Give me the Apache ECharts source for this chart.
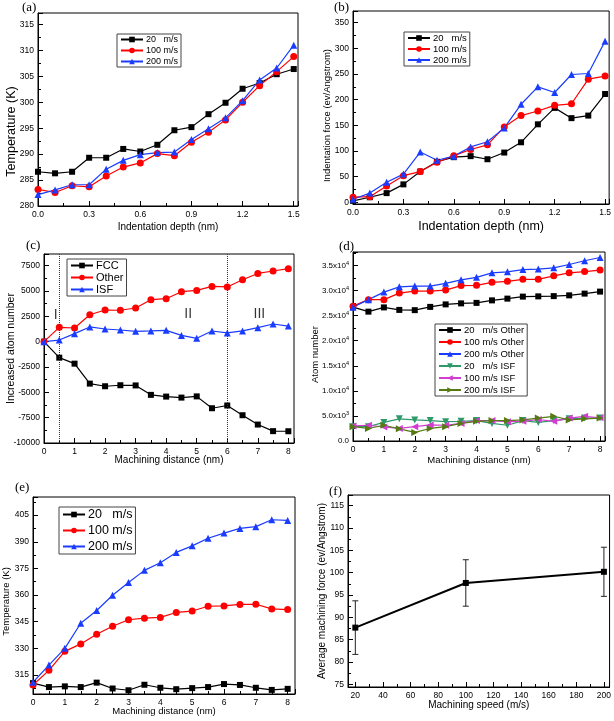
<!DOCTYPE html>
<html><head><meta charset="utf-8">
<script src="https://cdn.jsdelivr.net/npm/echarts@6/dist/echarts.min.js"></script>
<style>html,body{margin:0;padding:0;background:#fff}#c{width:614px;height:721px}</style>
</head><body><div id="c"></div><script>
// ---------- data ----------
const depth = [0,0.1,0.2,0.3,0.4,0.5,0.6,0.7,0.8,0.9,1.0,1.1,1.2,1.3,1.4,1.5];
const tempA20  = [286.6,286.3,286.6,289.3,289.3,291.0,290.5,291.8,294.6,295.2,297.7,299.9,302.6,303.7,305.4,306.4];
const tempA100 = [283.2,282.6,283.9,283.7,285.8,287.5,288.3,290.1,289.7,292.3,294.2,296.6,300.0,303.2,305.9,308.8];
const tempA200 = [282.2,283.1,284.1,284.1,287.1,288.8,289.9,290.3,290.4,292.8,294.9,297.0,300.3,304.3,306.6,311.0];
const forceB20  = [3,10,18,35,60,79,88,90,84,97,117,152,184,164,169,211];
const forceB100 = [10,11,32,52,60,78,91,103,112,147,169,178,189,192,240,246];
const forceB200 = [6,18,39,55,98,82,90,108,118,145,191,225,214,249,251,314];
const dist = [0,0.5,1,1.5,2,2.5,3,3.5,4,4.5,5,5.5,6,6.5,7,7.5,8];
const fccC   = [0,-1580,-2170,-4140,-4400,-4300,-4320,-5250,-5420,-5520,-5400,-6570,-6300,-7260,-8180,-8830,-8840];
const otherC = [0,1410,1350,2660,3120,3100,3320,4140,4240,4930,5060,5450,5400,6110,6730,6970,7200];
const isfC   = [0,160,790,1450,1250,1150,1020,1060,1120,620,330,1050,860,1060,1380,1740,1540];
const regionBounds = [0.5, 6];
const romanText = ['I','II','III'];
const romanX = [0.38, 4.72, 7.05];
const romanY = [2600, 2750, 2750];
const otherD20  = [26700,25800,26650,26150,26100,26750,27250,27450,27550,28050,28400,28800,28850,28900,29050,29400,29800];
const otherD100 = [26900,28200,28200,29500,29900,29900,30100,31000,31050,31650,31850,32250,32250,32950,33550,33800,34100];
const otherD200 = [26700,28200,29700,30750,30900,30900,31450,32150,32650,33550,33750,34200,34300,34550,35200,35950,36600];
const isfD20  = [2860,2860,3710,4430,4210,4070,3860,3930,4070,3500,3140,4070,3710,4070,4430,4570,4570];
const isfD100 = [3000,3140,2790,2500,2860,3210,3140,3500,4070,4070,3860,3930,4290,3930,4570,4930,4640];
const isfD200 = [2860,2500,3140,2430,1710,2500,2860,3500,3930,4070,4070,4210,4570,4930,4210,4430,4570];
const tempE20  = [310.4,308.2,308.6,308.2,310.7,307.4,306.4,309.5,307.8,307.0,307.6,308.2,309.9,309.4,307.8,306.6,307.2];
const tempE100 = [309.4,317.6,328.3,332.5,337.9,342.4,346.1,347.0,347.4,350.2,351.0,353.7,353.9,354.7,354.8,352.2,351.8];
const tempE200 = [310.9,320.6,330.0,344.1,351.3,359.9,367.1,373.9,378.2,384.0,387.7,392.0,394.9,397.5,398.5,402.4,402.0];
const speedF = [20,100,200];
const forceF = [87.7,97.7,100.2];
const forceFLow  = [81.7,92.5,94.7];
const forceFHigh = [93.7,102.9,105.7];
const panelLabels = ['(a)','(b)','(c)','(d)','(e)','(f)'];

// ---------- helpers ----------
const pairs = (xs, ys) => xs.map((x, i) => [x, ys[i]]);
const FONT = 'Liberation Sans, Arial, sans-serif';
const BLACK = '#000000', RED = '#ff0000', BLUE = '#1a3cff';
const onTick = (v, s) => Math.abs(v / s - Math.round(v / s)) < 1e-6;

function axis(gi, min, max, step, name, gap, nameSize, shiftDown, extra) {
  const a = {
    type: 'value', gridIndex: gi, min, max, minInterval: step, maxInterval: step,
    splitNumber: Math.round((max - min) / step),
    name, nameLocation: 'middle', nameGap: gap, nameMoveOverlap: false,
    nameTextStyle: { fontFamily: FONT, fontSize: nameSize, color: '#000',
      padding: shiftDown ? [0, 2 * shiftDown, 0, 0] : 0 },
    axisLine: { show: true, onZero: false, lineStyle: { color: '#000', width: 1 } },
    axisTick: { show: true, inside: true, length: 5, lineStyle: { color: '#000', width: 1 } },
    minorTick: { show: true, splitNumber: 2, length: 3, lineStyle: { color: '#000', width: 1 } },
    splitLine: { show: false },
    axisLabel: { color: '#000', fontSize: 8.5, fontFamily: FONT, margin: 4,
      formatter: v => String(v),
      showMinLabel: onTick(min, step), showMaxLabel: onTick(max, step) }
  };
  if (extra) {
    for (const k in extra) {
      if (typeof extra[k] === 'object' && a[k] && !Array.isArray(extra[k])) a[k] = Object.assign({}, a[k], extra[k]);
      else a[k] = extra[k];
    }
  }
  return a;
}

function line(name, gi, data, color, symbol, extra) {
  return Object.assign({
    type: 'line', name, xAxisIndex: gi, yAxisIndex: gi, data,
    symbol, symbolSize: 6, showSymbol: true,
    lineStyle: { color, width: 1.2 }, itemStyle: { color },
    emphasis: { disabled: true }, z: 3
  }, extra || {});
}

function legend(left, top, names, fontSize, itemGap) {
  return {
    left, top, orient: 'vertical', data: names, selectedMode: false,
    borderColor: '#444', borderWidth: 1, padding: [1, 3, 1, 3],
    itemGap, itemWidth: 22, itemHeight: 7,
    textStyle: { fontFamily: FONT, fontSize, color: '#000', padding: [0, 0, 0, -2] }
  };
}

const fix1 = v => v.toFixed(1);

const grids = [
  { left: 38, top: 13, width: 260, height: 193 },
  { left: 353, top: 11, width: 257, height: 193 },
  { left: 44, top: 254, width: 250, height: 189 },
  { left: 353, top: 252, width: 252, height: 189 },
  { left: 32, top: 497, width: 263, height: 197 },
  { left: 348, top: 495, width: 262, height: 192 }
].map(g => Object.assign({ show: true, borderColor: '#000', borderWidth: 1, backgroundColor: 'transparent' }, g));

const xAxes = [
  axis(0, 0, 1.525, 0.3, 'Indentation depth (nm)', 16, 10, 0, { axisLabel: { formatter: fix1 } }),
  axis(1, 0, 1.524, 0.3, 'Indentation depth (nm)', 16, 12.5, 0, { axisLabel: { formatter: fix1 } }),
  axis(2, 0, 8.185, 1, 'Machining distance (nm)', 12, 10, 0),
  axis(3, 0, 8.16, 1, 'Machining distance (nm)', 14.5, 9.5, 0),
  axis(4, 0, 8.23, 1, 'Machining distance (nm)', 12, 9.5, 0),
  axis(5, 14.7, 204.1, 20, 'Machining speed (m/s)', 13.5, 10, 0)
];
const supFmt = v => {
  if (v === 0) return '0.0';
  if (v >= 10000) return (v / 1e4).toFixed(1) + 'x10{sup|4}';
  return (v / 1e3).toFixed(1) + 'x10{sup|3}';
};
const yAxes = [
  axis(0, 280, 317.2, 5, 'Temperature (K)', 20, 12.5, 22),
  axis(1, -3.2, 372.7, 50, 'Indentation force (ev/Angstrom)', 21, 9.5, 8),
  axis(2, -10000, 8650, 2500, 'Increased atom number', 27, 10.5, 0),
  axis(3, 0, 37700, 5000, 'Atom number', 33, 9.5, 8, { axisLabel: { formatter: supFmt, fontSize: 8,
      rich: { sup: { fontSize: 5.5, verticalAlign: 'top', padding: [0, 0, 5, 0], fontFamily: FONT } } } }),
  axis(4, 304.3, 415.2, 15, 'Temperature (K)', 22, 9.5, 6),
  axis(5, 74.4, 117.4, 5, 'Average machining force (ev/Angstrom)', 21, 10, 0)
];

const N20 = '20   m/s', N100 = '100 m/s', N200 = '200 m/s';
const series = [
  line(N20, 0, pairs(depth, tempA20), BLACK, 'rect'),
  line(N100, 0, pairs(depth, tempA100), RED, 'circle', { symbolSize: 7 }),
  line(N200, 0, pairs(depth, tempA200), BLUE, 'triangle', { symbolSize: 7 }),
  line(N20, 1, pairs(depth, forceB20), BLACK, 'rect'),
  line(N100, 1, pairs(depth, forceB100), RED, 'circle', { symbolSize: 7 }),
  line(N200, 1, pairs(depth, forceB200), BLUE, 'triangle', { symbolSize: 7 }),
  line('FCC', 2, pairs(dist, fccC), BLACK, 'rect', {
    markLine: { silent: true, symbol: ['none', 'none'], label: { show: false },
      lineStyle: { color: '#333', type: 'dotted', width: 1 },
      data: regionBounds.map(x => ({ xAxis: x })) } }),
  line('Other', 2, pairs(dist, otherC), RED, 'circle', { symbolSize: 7 }),
  line('ISF', 2, pairs(dist, isfC), BLUE, 'triangle', { symbolSize: 7 }),
  { type: 'scatter', xAxisIndex: 2, yAxisIndex: 2, symbolSize: 0, silent: true,
    data: romanX.map((x, i) => ({ value: [x, romanY[i]], name: romanText[i] })),
    label: { show: true, position: 'inside', formatter: '{b}', fontFamily: FONT, fontSize: 14, color: '#000' } },
  line('20   m/s Other', 3, pairs(dist, otherD20), BLACK, 'rect'),
  line('100 m/s Other', 3, pairs(dist, otherD100), RED, 'circle', { symbolSize: 7 }),
  line('200 m/s Other', 3, pairs(dist, otherD200), BLUE, 'triangle', { symbolSize: 7 }),
  line('20   m/s ISF', 3, pairs(dist, isfD20), '#2e9a6a', 'triangle', { symbolSize: 7, symbolRotate: 180 }),
  line('100 m/s ISF', 3, pairs(dist, isfD100), '#d23cd2', 'triangle', { symbolSize: 7, symbolRotate: 90 }),
  line('200 m/s ISF', 3, pairs(dist, isfD200), '#557a14', 'triangle', { symbolSize: 7, symbolRotate: -90 }),
  line(N20, 4, pairs(dist, tempE20), BLACK, 'rect'),
  line(N100, 4, pairs(dist, tempE100), RED, 'circle', { symbolSize: 7 }),
  line(N200, 4, pairs(dist, tempE200), BLUE, 'triangle', { symbolSize: 7 }),
  { type: 'custom', xAxisIndex: 5, yAxisIndex: 5, silent: true, z: 2,
    data: speedF.map((s, i) => [s, forceFLow[i], forceFHigh[i]]),
    encode: { x: 0, y: [1, 2] },
    renderItem: (params, api) => {
      const lo = api.coord([api.value(0), api.value(1)]);
      const hi = api.coord([api.value(0), api.value(2)]);
      const w = 3, st = { stroke: '#222', lineWidth: 1 };
      return { type: 'group', children: [
        { type: 'line', shape: { x1: lo[0], y1: lo[1], x2: hi[0], y2: hi[1] }, style: st },
        { type: 'line', shape: { x1: lo[0] - w, y1: lo[1], x2: lo[0] + w, y2: lo[1] }, style: st },
        { type: 'line', shape: { x1: hi[0] - w, y1: hi[1], x2: hi[0] + w, y2: hi[1] }, style: st }
      ] };
    } },
  line('Average force', 5, pairs(speedF, forceF), BLACK, 'rect', { lineStyle: { color: BLACK, width: 2 }, symbolSize: 6 })
];

const labelPos = [[22, 1], [334, 1], [26, 239], [339, 240], [15, 481], [329, 485]];
const graphic = panelLabels.map((t, i) => ({
  type: 'text', left: labelPos[i][0], top: labelPos[i][1], silent: true,
  style: { text: t, fontFamily: 'Liberation Serif, Times New Roman, serif', fontSize: 13, fill: '#000' }
}));

const option = {
  animation: false,
  backgroundColor: '#fff',
  grid: grids, xAxis: xAxes, yAxis: yAxes, series, graphic,
  legend: [
    legend(117, 34, [N20, N100, N200], 9, 2),
    legend(404, 32, [N20, N100, N200], 9.5, 1),
    legend(67, 259, ['FCC', 'Other', 'ISF'], 11, 1),
    legend(435, 324, ['20   m/s Other', '100 m/s Other', '200 m/s Other', '20   m/s ISF', '100 m/s ISF', '200 m/s ISF'], 9.5, 2),
    legend(59, 507, [N20, N100, N200], 12.5, 3)
  ]
};
const chart = echarts.init(document.getElementById('c'), null, { renderer: 'canvas' });
chart.setOption(option);
</script></body></html>
